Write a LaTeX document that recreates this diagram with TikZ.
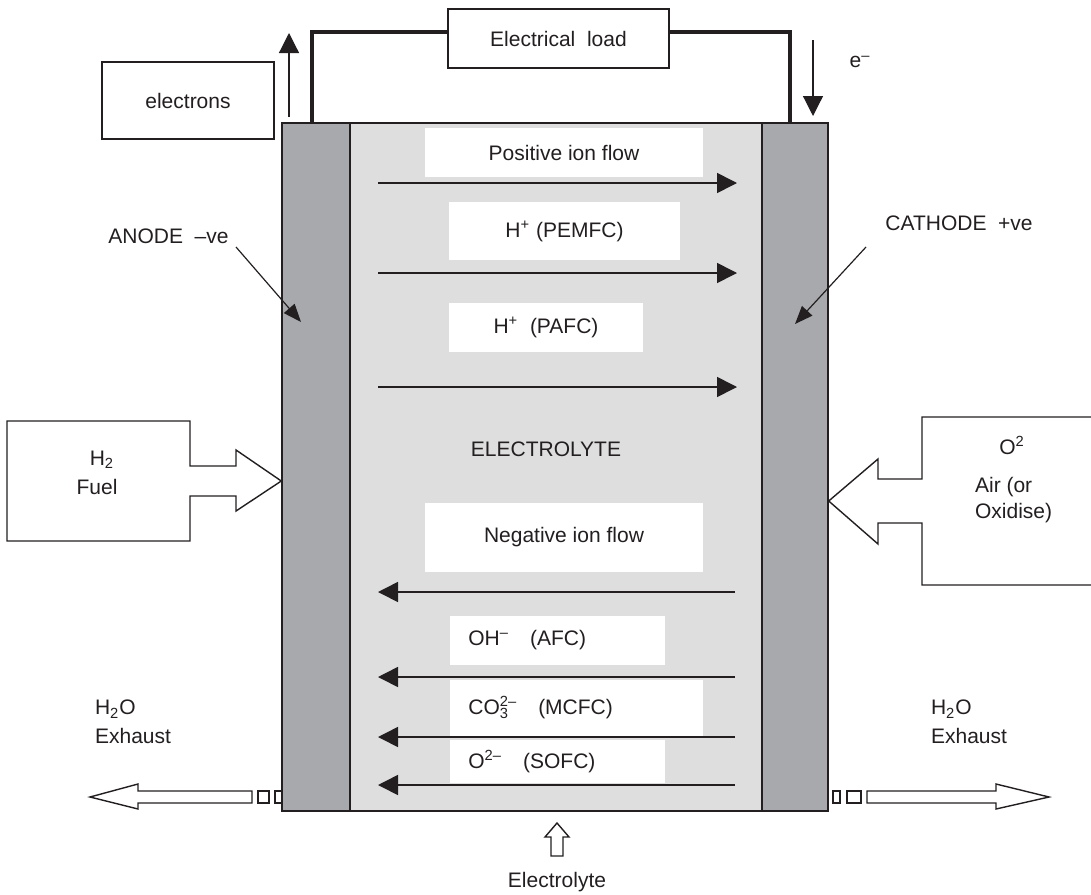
\documentclass[tikz,border=0pt]{standalone}
\usepackage{fontspec}
\setmainfont{Liberation Sans}
\usetikzlibrary{arrows.meta}
\definecolor{electrodegray}{RGB}{168,169,172}
\definecolor{inkgray}{RGB}{35,31,32}
\newcommand{\ionsub}[2]{\rlap{\textsubscript{#1}}\textsuperscript{#2}}

\begin{document}
\begin{tikzpicture}[x=0.5pt,y=-0.5pt,
  every node/.style={font=\fontsize{10.5}{12.6}\selectfont, text=inkgray},
  electrode/.style={draw=inkgray, line width=0.7pt, fill=electrodegray,
    minimum height=344pt, inner sep=0pt},
  plainbox/.style={draw=inkgray, line width=0.6pt, fill=white, inner sep=0pt},
  ionbox/.style={fill=white, inner sep=0pt},
  flow/.style={draw=inkgray, line width=0.8pt, -{Triangle[length=10pt,width=10pt]}},
  pointer/.style={draw=inkgray, line width=0.6pt, -{Triangle[length=9pt,width=7pt]}},
  wire/.style={draw=inkgray, line width=2.3pt},
  block/.style={draw=inkgray, line width=0.7pt, fill=white}]
\useasboundingbox (0,0) rectangle (1091,894);

% exhaust outlets (drawn first, the electrodes cover their ends)
\draw[block] (258,791) rectangle (269,803);
\draw[block] (275,791) rectangle (284,803);
\draw[block] (90,797) -- (138,784) -- (138,791) -- (252,791) -- (252,803)
  -- (138,803) -- (138,809) -- cycle;
\draw[block] (833,791) rectangle (840,803);
\draw[block] (847,791) rectangle (861,803);
\draw[block] (867,791) -- (996,791) -- (996,784) -- (1049,797) -- (996,809)
  -- (996,803) -- (867,803) -- cycle;

% the cell
\node[draw=inkgray, line width=0.6pt, fill=black!13, inner sep=0pt,
  minimum width=206pt, minimum height=344pt] (electrolyte) at (556,467) {};
\node[electrode, minimum width=34pt] (anode) at (316,467) {};
\node[electrode, minimum width=33pt] (cathode) at (795,467) {};
\node (ellbl) at (546,449) {ELECTROLYTE};

% ion flow
\node[ionbox, minimum width=139pt, minimum height=24.5pt] (posflow) at (564,152.5) {Positive ion flow};
\node[ionbox, minimum width=115.5pt, minimum height=29pt] (pemfc) at (564.5,231) {H\textsuperscript{+} (PEMFC)};
\node[ionbox, minimum width=97pt, minimum height=24.5pt] (pafc) at (546,327.5) {H\textsuperscript{+}\ \ (PAFC)};
\node[ionbox, minimum width=139pt, minimum height=34.5pt] (negflow) at (564,537.5) {Negative ion flow};
\node[ionbox, anchor=west, inner xsep=9pt, text width=89.5pt, align=left,
  minimum height=24.5pt] (afc) at (450,640.5) {OH\textsuperscript{–}\ \ \ (AFC)};
\node[ionbox, anchor=west, inner xsep=9pt, text width=108.5pt, align=left,
  minimum height=28pt] (mcfc) at (450,708) {CO\ionsub{3}{2–}\ \ \ (MCFC)};
\node[ionbox, anchor=west, inner xsep=9pt, text width=89.5pt, align=left,
  minimum height=21.5pt] (sofc) at (450,761.5) {O\textsuperscript{2–}\ \ \ (SOFC)};
\foreach \y in {183,273,387}
  \draw[flow] (378,\y) -- (737,\y);
\foreach \y in {592,677,737,785}
  \draw[flow] (735,\y) -- (378,\y);

% external circuit
\node[plainbox, minimum width=110.5pt, minimum height=29.5pt] (load) at (558.5,38.5) {Electrical\ \ load};
\coordinate (wireL) at (312,123);
\coordinate (wireR) at (790,123);
\draw[wire] (wireL) |- ([yshift=3.25pt]load.west);
\draw[wire] ([yshift=3.25pt]load.east) -| (wireR);
\node[plainbox, minimum width=86pt, minimum height=38.5pt] (electrons) at (188,100.5) {electrons};
\coordinate (eupS) at (289,117);
\coordinate (eupE) at (289,33);
\draw[flow, line width=0.6pt] (eupS) -- (eupE);
\coordinate (edownS) at (813,40);
\coordinate (edownE) at (813,116);
\draw[flow, line width=0.6pt] (edownS) -- (edownE);
\node (elbl) at (860,62) {e\textsuperscript{–}};

% electrode labels
\node (anodelbl) at (168.5,236) {ANODE\ \ –ve};
\coordinate (anodeS) at (236,247);
\coordinate (anodeT) at (301,322);
\draw[pointer] (anodeS) -- (anodeT);
\node (cathlbl) at (959,223) {CATHODE\ \ +ve};
\coordinate (cathS) at (866,247);
\coordinate (cathT) at (795,324);
\draw[pointer] (cathS) -- (cathT);

% fuel inlet
\draw[block] (7,421) -- (190,421) -- (190,466) -- (236,466) -- (236,450)
  -- (anode.west |- 0,481) -- (236,511) -- (236,496) -- (190,496)
  -- (190,541) -- (7,541) -- cycle;
\node (h2) at (102,460) {H\textsubscript{2}};
\node (fuel) at (97,487) {Fuel};

% oxidant inlet
\draw[block] (1092,417) -- (922,417) -- (922,479) -- (878,479) -- (878,459)
  -- (cathode.east |- 0,501) -- (878,544) -- (878,523) -- (922,523)
  -- (922,585) -- (1092,585);
\node (o2) at (1012,445) {O\textsuperscript{2}};
\node[anchor=west, align=left] (air) at (968,500) {Air (or\\Oxidise)};

% exhaust and electrolyte labels
\node[anchor=west, align=left] (exhL) at (88,722) {H\textsubscript{2}O\\[1.9pt]Exhaust};
\node[anchor=west, align=left] (exhR) at (924,722) {H\textsubscript{2}O\\[1.9pt]Exhaust};
\draw[block] (557,823) -- (569,837) -- (563,837) -- (563,856) -- (551,856)
  -- (551,837) -- (545,837) -- cycle;
\node (ellbl2) at (557,882) {Electrolyte};
\end{tikzpicture}
\end{document}
